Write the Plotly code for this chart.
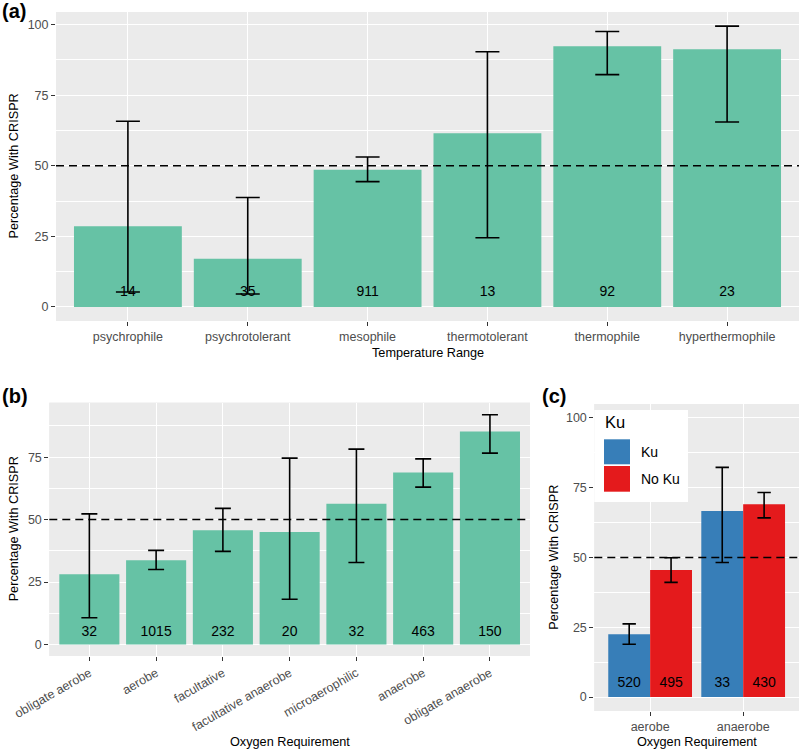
import plotly.graph_objects as go

# ---------------- data ----------------
temp_categories = ["psychrophile", "psychrotolerant", "mesophile", "thermotolerant", "thermophile", "hyperthermophile"]
temp_pct = [28.6, 17.1, 48.6, 61.5, 92.4, 91.3]
temp_lower = [5.3, 4.6, 44.4, 24.5, 82.3, 65.5]
temp_upper = [65.8, 38.8, 53.1, 90.4, 97.6, 99.5]
temp_n = [14, 35, 911, 13, 92, 23]

oxy_categories = ["obligate aerobe", "aerobe", "facultative", "facultative anaerobe",
                  "microaerophilic", "anaerobe", "obligate anaerobe"]
oxy_pct = [28.1, 33.7, 45.7, 45.0, 56.3, 68.9, 85.3]
oxy_lower = [10.7, 30.0, 37.3, 18.1, 32.8, 63.0, 76.6]
oxy_upper = [52.3, 37.7, 54.5, 74.6, 78.2, 74.3, 92.0]
oxy_n = [32, 1015, 232, 20, 32, 463, 150]

ku_categories = ["aerobe", "anaerobe"]
ku_groups = ["Ku", "No Ku"]
ku_pct = [22.5, 66.7]
ku_lower = [18.9, 48.2]
ku_upper = [26.2, 82.3]
ku_n = [520, 33]
noku_pct = [45.5, 69.1]
noku_lower = [41.1, 64.2]
noku_upper = [49.9, 73.3]
noku_n = [495, 430]

y_ticks = [0, 25, 50, 75, 100]
ref_line = 50
label_y = 5

# ---------------- style ----------------
W, H = 799, 750
FONT = "Liberation Sans, Arial, Helvetica, sans-serif"
BAR = "#66C2A5"
KU_COLORS = ["#377EB8", "#E41A1C"]
PANEL_BG = "#EBEBEB"
TICK_COLOR = "#4D4D4D"


def px(x):
    return x / W


def py(y):
    return 1 - y / H


fig = go.Figure()


def err(vals, lo, hi, w):
    return dict(type="data", symmetric=False,
                array=[h - v for v, h in zip(vals, hi)],
                arrayminus=[v - l for v, l in zip(vals, lo)],
                color="black", thickness=1.6, width=w)


# panel a
fig.add_trace(go.Bar(x=temp_categories, y=temp_pct, marker_color=BAR, marker_line_width=0,
                     error_y=err(temp_pct, temp_lower, temp_upper, 12),
                     xaxis="x", yaxis="y", showlegend=False, hoverinfo="skip"))
fig.add_trace(go.Scatter(x=temp_categories, y=[label_y] * len(temp_n), mode="text",
                         text=[str(n) for n in temp_n], textposition="middle center",
                         textfont=dict(size=14, color="black", family=FONT),
                         xaxis="x", yaxis="y", showlegend=False, hoverinfo="skip", cliponaxis=False))

# panel b
fig.add_trace(go.Bar(x=oxy_categories, y=oxy_pct, marker_color=BAR, marker_line_width=0,
                     error_y=err(oxy_pct, oxy_lower, oxy_upper, 8),
                     xaxis="x2", yaxis="y2", showlegend=False, hoverinfo="skip"))
fig.add_trace(go.Scatter(x=oxy_categories, y=[label_y] * len(oxy_n), mode="text",
                         text=[str(n) for n in oxy_n], textposition="middle center",
                         textfont=dict(size=14, color="black", family=FONT),
                         xaxis="x2", yaxis="y2", showlegend=False, hoverinfo="skip", cliponaxis=False))

# panel c
series_c = [(ku_pct, ku_lower, ku_upper, ku_n), (noku_pct, noku_lower, noku_upper, noku_n)]
for g, (vals, lo, hi, ns), col in zip(ku_groups, series_c, KU_COLORS):
    fig.add_trace(go.Bar(x=ku_categories, y=vals, name=g, marker_color=col, marker_line_width=0,
                         offsetgroup=g, alignmentgroup="c",
                         error_y=err(vals, lo, hi, 6.7),
                         xaxis="x3", yaxis="y3", showlegend=False, hoverinfo="skip"))
for g, (vals, lo, hi, ns) in zip(ku_groups, series_c):
    fig.add_trace(go.Scatter(x=ku_categories, y=[label_y] * len(ns), mode="text",
                             text=[str(n) for n in ns], textposition="middle center",
                             offsetgroup=g, alignmentgroup="c",
                             textfont=dict(size=14, color="black", family=FONT),
                             xaxis="x3", yaxis="y3", showlegend=False, hoverinfo="skip",
                             cliponaxis=False))

# ---------------- axes ----------------
xcommon = dict(type="category", showgrid=True, gridcolor="white", gridwidth=1.1,
               ticks="outside", ticklen=4, tickwidth=1, tickcolor="#333333",
               tickfont=dict(size=12.5, color=TICK_COLOR, family=FONT), automargin=False,
               showline=False, zeroline=False, fixedrange=True)
ycommon = dict(tickmode="array", tickvals=y_ticks, ticktext=[str(t) for t in y_ticks],
               showgrid=True, gridcolor="white", gridwidth=1.1, automargin=False,
               minor=dict(tickmode="linear", tick0=12.5, dtick=25, showgrid=True,
                          gridcolor="white", gridwidth=0.55, ticklen=0),
               ticks="outside", ticklen=4, tickwidth=1, tickcolor="#333333",
               tickfont=dict(size=12.5, color=TICK_COLOR, family=FONT),
               showline=False, zeroline=False, fixedrange=True)

a_top, a_bot, a_left, a_right = 12, 321, 56, 799
b_top, b_bot, b_left, b_right = 402.7, 656, 49.3, 530
c_top, c_bot, c_left, c_right = 404, 711, 594.3, 799

fig.update_layout(
    xaxis=dict(xcommon, domain=[px(a_left), px(a_right)], range=[-0.6, 5.6], anchor="y"),
    yaxis=dict(ycommon, domain=[py(a_bot), py(a_top)], range=[-4.98, 104.5], anchor="x"),
    xaxis2=dict(xcommon, domain=[px(b_left), px(b_right)], range=[-0.6, 6.6], anchor="y2",
                tickangle=-30),
    yaxis2=dict(ycommon, domain=[py(b_bot), py(b_top)], range=[-4.6, 96.8], anchor="x2"),
    xaxis3=dict(xcommon, domain=[px(c_left), px(c_right)], range=[-0.6, 1.6], anchor="y3"),
    yaxis3=dict(ycommon, domain=[py(c_bot), py(c_top)], range=[-5, 105], anchor="x3"),
)

# panel backgrounds
shapes = []
for xr, yr in [("x", "y"), ("x2", "y2"), ("x3", "y3")]:
    shapes.append(dict(type="rect", xref=f"{xr} domain", yref=f"{yr} domain", x0=0, x1=1, y0=0, y1=1,
                       fillcolor=PANEL_BG, line_width=0, layer="below"))
    shapes.append(dict(type="line", xref=f"{xr} domain", yref=yr, x0=0, x1=1, y0=ref_line, y1=ref_line,
                       line=dict(color="black", width=1.5, dash="8px,5px"), layer="above"))

# legend for panel c (manual, ggplot style)
shapes.append(dict(type="rect", xref="paper", yref="paper", x0=px(594.3), x1=px(688), y0=py(502), y1=py(410),
                   fillcolor="white", line_width=0, layer="above"))
key_y = [(439.3, 464.3), (466, 491.7)]
for (y0, y1), col in zip(key_y, KU_COLORS):
    shapes.append(dict(type="rect", xref="paper", yref="paper", x0=px(604), x1=px(630), y0=py(y1), y1=py(y0),
                       fillcolor=col, line_width=0, layer="above"))

annotations = []
for g, (y0, y1) in zip(ku_groups, key_y):
    annotations.append(dict(text=g, xref="paper", yref="paper", x=px(638.5), y=py((y0 + y1) / 2),
                            xanchor="left", yanchor="middle", showarrow=False,
                            font=dict(size=14, color="black", family=FONT)))
annotations.append(dict(text="Ku", xref="paper", yref="paper", x=px(602.5), y=py(421.5),
                        xanchor="left", yanchor="middle", showarrow=False,
                        font=dict(size=16.5, color="black", family=FONT)))

# panel letters
for t, x, y in [("(a)", 0, 11), ("(b)", 0, 396.5), ("(c)", 540, 396)]:
    annotations.append(dict(text=f"<b>{t}</b>", xref="paper", yref="paper", x=px(x), y=py(y),
                            xanchor="left", yanchor="middle", showarrow=False,
                            font=dict(size=20, color="black", family=FONT)))

# axis titles
ytitle = "Percentage With CRISPR"
for x, y in [(14, (a_top + a_bot) / 2), (14, (b_top + b_bot) / 2), (553.3, (c_top + c_bot) / 2)]:
    annotations.append(dict(text=ytitle, xref="paper", yref="paper", x=px(x), y=py(y), textangle=-90,
                            xanchor="center", yanchor="middle", showarrow=False,
                            font=dict(size=12.7, color="black", family=FONT)))
for t, x, y in [("Temperature Range", (a_left + a_right) / 2, 353),
                ("Oxygen Requirement", (b_left + b_right) / 2, 741.7),
                ("Oxygen Requirement", (c_left + c_right) / 2, 741.7)]:
    annotations.append(dict(text=t, xref="paper", yref="paper", x=px(x), y=py(y),
                            xanchor="center", yanchor="middle", showarrow=False,
                            font=dict(size=12.7, color="black", family=FONT)))

fig.update_layout(
    width=W, height=H, autosize=False,
    margin=dict(l=0, r=0, t=0, b=0, pad=0),
    paper_bgcolor="white", plot_bgcolor=PANEL_BG,
    barmode="group", bargap=0.1, bargroupgap=0,
    scattermode="group", scattergap=0.1,
    showlegend=False,
    shapes=shapes, annotations=annotations,
    font=dict(family=FONT),
)

fig.write_html("out.html", config={"displayModeBar": False},
               post_script="document.body.style.margin='0px';")
